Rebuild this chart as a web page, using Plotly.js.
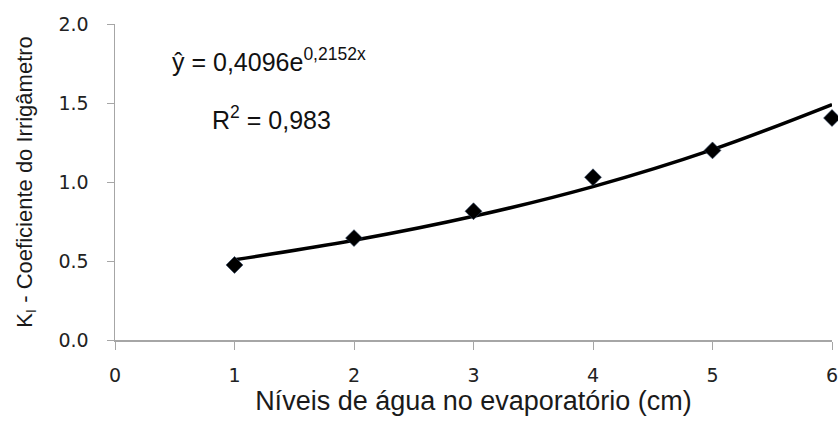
<!DOCTYPE html>
<html><head><meta charset="utf-8">
<script src="https://cdn.plot.ly/plotly-3.0.1.min.js"></script>
<style>body{margin:0;background:#fff}#c{width:838px;height:421px}</style>
</head><body><div id="c"></div>
<script>
var levels = [1, 2, 3, 4, 5, 6];
var observed = [0.475, 0.645, 0.815, 1.03, 1.20, 1.405];
var fitX = [1, 2, 3, 4, 5, 6];
var fitY = [0.508, 0.631, 0.783, 0.971, 1.205, 1.49];
var xTicks = [0, 1, 2, 3, 4, 5, 6];
var yTicks = [0, 0.5, 1.0, 1.5, 2.0];
var yTickText = ['0.0', '0.5', '1.0', '1.5', '2.0'];

var traces = [
  {x: fitX, y: fitY, mode: 'lines', line: {color: '#000', width: 3.5, shape: 'spline'}, hoverinfo: 'skip', cliponaxis: false},
  {x: levels, y: observed, mode: 'markers', marker: {symbol: 'diamond', color: '#000', size: 13, line: {color: '#2a3f5f', width: 0.6}}, cliponaxis: false}
];
var axisFont = {family: 'DejaVu Sans, sans-serif', size: 19, color: '#222'};
var txtFont = 'Liberation Sans, Arial, sans-serif';
var layout = {
  width: 838, height: 421, showlegend: false,
  margin: {l: 115, r: 6, t: 24, b: 81},
  paper_bgcolor: '#fff', plot_bgcolor: '#fff',
  xaxis: {range: [0, 6], tickvals: xTicks, showgrid: false, zeroline: false,
    showline: true, linecolor: '#a6a6a6', linewidth: 1.5,
    ticks: 'outside', ticklen: 8, tickcolor: '#a6a6a6', tickwidth: 1,
    ticklabelstandoff: 10, ticklabeloverflow: 'allow', tickfont: axisFont,
    title: {text: 'Níveis de água no evaporatório (cm)', font: {family: txtFont, size: 27, color: '#1a1a1a'}, standoff: 2}},
  yaxis: {range: [0, 2], tickvals: yTicks, ticktext: yTickText, showgrid: false, zeroline: false,
    showline: true, linecolor: '#a6a6a6', linewidth: 1.5,
    ticks: 'outside', ticklen: 7, tickcolor: '#a6a6a6', tickwidth: 1,
    ticklabelstandoff: 14, ticklabeloverflow: 'allow', tickfont: axisFont,
    title: {text: 'K<sub>I</sub> - Coeficiente do Irrigâmetro', font: {family: txtFont, size: 22, color: '#1a1a1a'}, standoff: 20}},
  annotations: [
    {xref: 'paper', yref: 'paper', x: (170-115)/717, y: (340-60)/316, xanchor: 'left', yanchor: 'middle', showarrow: false,
     text: 'ŷ = 0,4096e<sup>0,2152x</sup>', font: {family: txtFont, size: 25, color: '#111'}},
    {xref: 'paper', yref: 'paper', x: (210-115)/717, y: (340-118)/316, xanchor: 'left', yanchor: 'middle', showarrow: false,
     text: 'R<sup>2</sup> = 0,983', font: {family: txtFont, size: 25, color: '#111'}}
  ]
};
Plotly.newPlot('c', traces, layout, {staticPlot: true});
</script></body></html>
